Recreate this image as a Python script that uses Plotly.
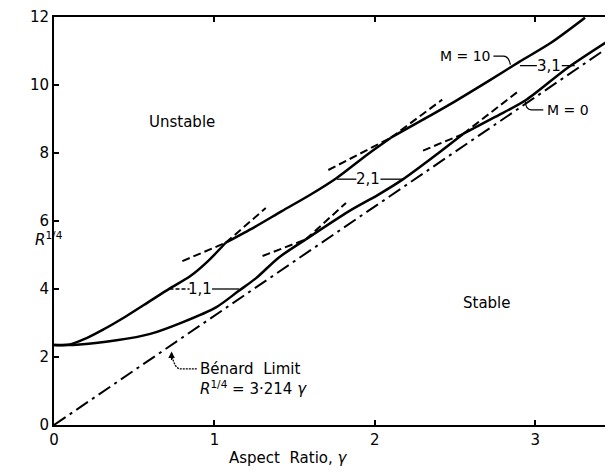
import plotly.graph_objects as go

# ---- data ----
m10_x = [0, 0.1, 0.2, 0.3, 0.45, 0.6, 0.72, 0.85, 0.96, 1.07, 1.25, 1.42, 1.6, 1.76, 1.96, 2.1, 2.3, 2.5, 2.71, 2.9, 3.1, 3.31]
m10_y = [2.35, 2.37, 2.55, 2.79, 3.2, 3.65, 4.01, 4.38, 4.82, 5.36, 5.82, 6.29, 6.78, 7.26, 7.98, 8.45, 8.98, 9.52, 10.12, 10.68, 11.25, 11.98]
m10_kinks = [1.07, 2.1]

m0_x = [0, 0.14, 0.39, 0.6, 0.8, 1.01, 1.15, 1.26, 1.4, 1.57, 1.84, 2.02, 2.17, 2.38, 2.55, 2.75, 2.94, 3.2, 3.472]
m0_y = [2.35, 2.36, 2.49, 2.68, 3.02, 3.46, 3.94, 4.32, 4.92, 5.46, 6.29, 6.77, 7.21, 7.94, 8.56, 9.06, 9.55, 10.5, 11.35]
m0_kinks = [1.57, 2.55]

benard_x = [0, 3.472]
benard_y = [0, 11.16]

# dashed continuations of the mode branches past each crossing
tangent_x = [0.80, 1.07, None, 1.07, 1.32, None, 1.30, 1.57, None, 1.57, 1.82, None,
             1.71, 2.10, None, 2.10, 2.42, None, 2.30, 2.55, None, 2.55, 2.89]
tangent_y = [4.82, 5.36, None, 5.36, 6.38, None, 4.97, 5.46, None, 5.46, 6.53, None,
             7.50, 8.45, None, 8.45, 9.57, None, 8.07, 8.56, None, 8.56, 9.80]

x_ticks = [0, 1, 2, 3]
y_ticks = [0, 2, 4, 6, 8, 10, 12]

FONT = "DejaVu Sans"
BLACK = "#000000"


def segments(xs, ys, kinks):
    """Split a curve at its kink points so each smooth branch is drawn separately."""
    cuts = [0] + [xs.index(k) for k in kinks] + [len(xs) - 1]
    return [(xs[a:b + 1], ys[a:b + 1]) for a, b in zip(cuts[:-1], cuts[1:])]


fig = go.Figure()
fig.add_trace(go.Scatter(x=benard_x, y=benard_y, mode="lines",
                         line=dict(color=BLACK, width=2, dash="14px,5px,3px,5px"),
                         hoverinfo="skip"))
fig.add_trace(go.Scatter(x=tangent_x, y=tangent_y, mode="lines",
                         line=dict(color=BLACK, width=2, dash="8px,4px"),
                         connectgaps=False, hoverinfo="skip"))
for xs, ys, kinks in [(m0_x, m0_y, m0_kinks), (m10_x, m10_y, m10_kinks)]:
    for sx, sy in segments(xs, ys, kinks):
        fig.add_trace(go.Scatter(x=sx, y=sy, mode="lines",
                                 line=dict(color=BLACK, width=2.5, shape="spline", smoothing=0.8),
                                 hoverinfo="skip"))

lead = dict(color=BLACK, width=1.3)
shapes = [
    # 1,1 leaders
    dict(type="line", x0=0.72, x1=0.845, y0=4.0, y1=4.0, line=dict(color=BLACK, width=1.3, dash="4px,2px")),
    dict(type="line", x0=0.985, x1=1.155, y0=4.0, y1=4.0, line=lead),
    # 2,1 leaders
    dict(type="line", x0=1.764, x1=1.885, y0=7.23, y1=7.23, line=lead),
    dict(type="line", x0=2.035, x1=2.18, y0=7.23, y1=7.23, line=lead),
    # 3,1 leaders
    dict(type="line", x0=2.905, x1=3.01, y0=10.57, y1=10.57, line=lead),
    dict(type="line", x0=3.165, x1=3.246, y0=10.57, y1=10.57, line=lead),
    # M=10 leader
    dict(type="path", path="M 2.739,10.85 L 2.80,10.85 Q 2.835,10.85 2.845,10.6", line=lead),
    # M=0 leader
    dict(type="path", path="M 3.05,9.27 L 2.975,9.27 Q 2.94,9.27 2.938,9.52", line=lead),
    # Benard leader
    dict(type="path", path="M 0.89,1.65 L 0.79,1.65 Q 0.75,1.65 0.733,2.1",
         line=dict(color=BLACK, width=1.3, dash="2px,1px")),
]

ann_font = dict(family=FONT, size=15, color=BLACK)
annotations = [
    dict(x=0.795, y=8.92, text="Unstable", showarrow=False, font=ann_font),
    dict(x=2.70, y=3.6, text="Stable", showarrow=False, font=ann_font),
    dict(x=0.913, y=4.0, text="1,1", showarrow=False, font=ann_font),
    dict(x=1.957, y=7.23, text="2,1", showarrow=False, font=ann_font),
    dict(x=3.087, y=10.57, text="3,1", showarrow=False, font=ann_font),
    dict(x=2.563, y=10.84, text="M = 10", showarrow=False, font=dict(family=FONT, size=14, color=BLACK)),
    dict(x=3.205, y=9.26, text="M = 0", showarrow=False, font=dict(family=FONT, size=14, color=BLACK)),
    dict(x=0.895, y=1.64, text="Bénard  Limit", showarrow=False, xanchor="left", font=ann_font),
    dict(x=0.895, y=1.08, text="<i>R</i><sup>1/4</sup> = 3·214 <i>γ</i>", showarrow=False,
         xanchor="left", font=ann_font),
    # arrowhead of Benard leader
    dict(x=0.733, y=2.16, ax=0, ay=10, text="", showarrow=True, arrowhead=2,
         arrowsize=1, arrowwidth=1.3, arrowcolor=BLACK),
    # axis titles
    dict(x=1.46, y=-0.108, xref="x", yref="paper", text="Aspect  Ratio, <i>γ</i>",
         showarrow=False, font=ann_font),
    dict(x=-0.038, y=5.47, xref="paper", yref="y", text="<i>R</i><sup>1/4</sup>",
         showarrow=False, font=ann_font),
]

# the page body adds an 8px offset; margins are reduced to compensate
fig.update_layout(
    width=605, height=464,
    margin=dict(l=46, r=0, t=7, b=47),
    paper_bgcolor="white", plot_bgcolor="white",
    showlegend=False,
    shapes=shapes, annotations=annotations,
    font=dict(family=FONT, size=15, color=BLACK),
)
fig.update_xaxes(range=[0, 3.472], tickvals=x_ticks, ticktext=[str(v) for v in x_ticks],
                 showgrid=False, zeroline=False, showline=True, linecolor=BLACK, linewidth=2,
                 mirror="ticks", ticks="inside", ticklen=5, tickwidth=1.5, tickcolor=BLACK,
                 ticklabeloverflow="allow",
                 tickfont=dict(family=FONT, size=15, color=BLACK))
fig.update_yaxes(range=[0, 12], tickvals=y_ticks, ticktext=[str(v) for v in y_ticks],
                 showgrid=False, zeroline=False, showline=True, linecolor=BLACK, linewidth=2,
                 mirror="ticks", ticks="inside", ticklen=5, tickwidth=1.5, tickcolor=BLACK,
                 ticklabeloverflow="allow",
                 tickfont=dict(family=FONT, size=15, color=BLACK))

fig.write_html("out.html")
